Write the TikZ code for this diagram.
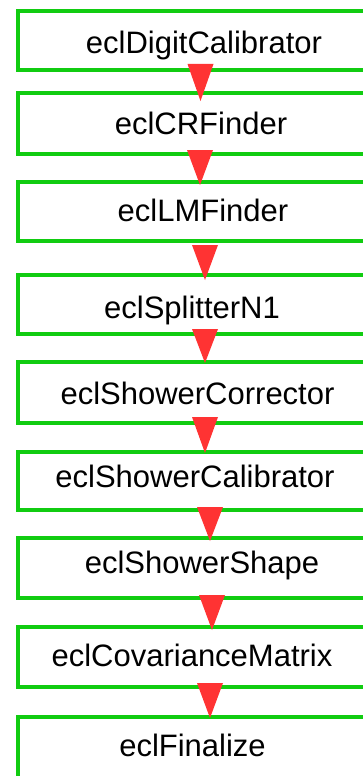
\documentclass[tikz,border=0pt]{standalone}
\usepackage{fontspec}
\setmainfont{Liberation Sans}
\definecolor{boxgreen}{RGB}{17,204,17}
\definecolor{trired}{RGB}{255,51,51}
\tikzset{
  box/.style={draw=boxgreen, line width=4pt, fill=white, inner sep=0pt},
  lbl/.style={anchor=base, inner sep=0pt, font=\fontsize{31}{37}\selectfont},
  tri/.style={fill=trired, draw=none}
}
\newcommand{\mkbox}[3]{% name, top, bottom
  \node[box, minimum width=364pt, minimum height={(#3-#2)*1pt}] (#1) at (200,{-(#2+#3)/2}) {};}
\newcommand{\mktri}[4]{% name, x, top, tip
  \coordinate (#1a) at ({#2-13},-#3);
  \coordinate (#1b) at ({#2+13},-#3);
  \coordinate (#1c) at (#2,-#4);
  \fill[tri] (#1a) -- (#1b) -- (#1c) -- cycle;}
\begin{document}
\begin{tikzpicture}[x=1pt,y=1pt]
\useasboundingbox (0,0) rectangle (363,-776);
\clip (0,0) rectangle (363,-776);
\mkbox{b1}{11}{70}
\mkbox{b2}{93}{154}
\mkbox{b3}{182}{241}
\mkbox{b4}{275}{334}
\mkbox{b5}{362}{423}
\mkbox{b6}{452}{510}
\mkbox{b7}{538}{598}
\mkbox{b8}{627}{687}
\mkbox{b9}{717}{780}
\node[lbl] (l1) at (204,-54) {eclDigitCalibrator};
\node[lbl] (l2) at (201,-134) {eclCRFinder};
\node[lbl] (l3) at (203,-221) {eclLMFinder};
\node[lbl] (l4) at (192,-318) {eclSplitterN1};
\node[lbl] (l5) at (197.5,-404) {eclShowerCorrector};
\node[lbl] (l6) at (195,-487) {eclShowerCalibrator};
\node[lbl] (l7) at (202,-573) {eclShowerShape};
\node[lbl] (l8) at (192,-666) {eclCovarianceMatrix};
\node[lbl] (l9) at (192.5,-756) {eclFinalize};
\mktri{t1}{200.5}{64}{101}
\mktri{t2}{200}{150}{185}
\mktri{t3}{205}{245}{280}
\mktri{t4}{205}{329}{363}
\mktri{t5}{205}{417}{453}
\mktri{t6}{210}{507}{541}
\mktri{t7}{212}{595}{630}
\mktri{t8}{210}{683}{718}
\end{tikzpicture}
\end{document}
